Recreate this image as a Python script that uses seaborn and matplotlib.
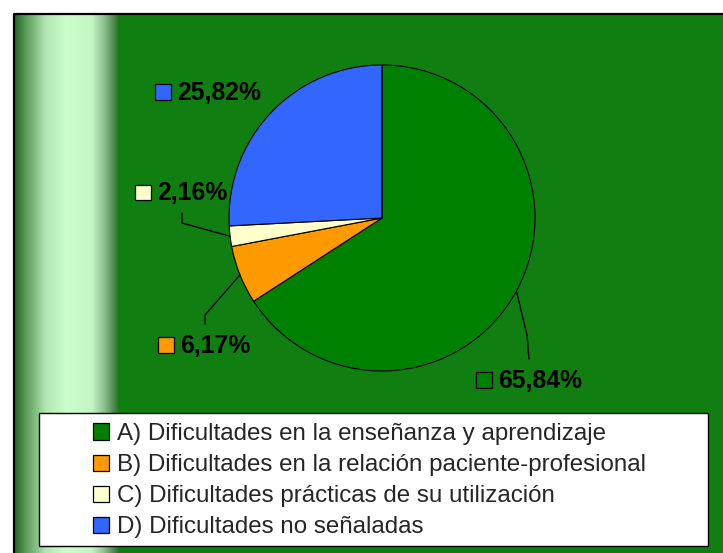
import numpy as np
import matplotlib
matplotlib.use("Agg")
import matplotlib.pyplot as plt
from matplotlib.patches import Rectangle
from matplotlib.colors import LinearSegmentedColormap
import seaborn as sns

sns.set_theme(style="white")
plt.rcParams["font.family"] = ["Liberation Sans", "DejaVu Sans"]

# data
categories = [
    "A) Dificultades en la enseñanza y aprendizaje",
    "B) Dificultades en la relación paciente-profesional",
    "C) Dificultades prácticas de su utilización",
    "D) Dificultades no señaladas",
]
values = [65.84, 6.17, 2.16, 25.82]
colors = ["#008000", "#ff9900", "#ffffcc", "#3366ff"]
pct_labels = [f"{v:.2f}%".replace(".", ",") for v in values]

W, H = 723, 553
fig = plt.figure(figsize=(W / 100, H / 100), dpi=100, facecolor="white")
ax = fig.add_axes([0, 0, 1, 1])

def Y(y):
    # pixel row (from top) -> axes y
    return H - y

# green panel with light stripe at the left
ax.add_patch(Rectangle((14, 0), W - 14, Y(14), facecolor="#107e10", edgecolor="none", zorder=0))
stripe = LinearSegmentedColormap.from_list("stripe", [
    (0.0, "#226622"), (0.12, "#5e9e5e"), (0.3, "#b0e4b0"), (0.5, "#ccffcc"),
    (0.75, "#c4f5c4"), (0.87, "#8fc08f"), (1.0, "#357535")])
ax.imshow(np.linspace(0, 1, 200)[None, :], cmap=stripe, aspect="auto",
          extent=(14, 118, 0, Y(14)), zorder=1)
ax.plot([13.5, 13.5, W], [0, Y(13.5), Y(13.5)], color="black", lw=1.6, zorder=2)

# pie
cx, cy, r = 382, Y(218), 153
wedges, _ = ax.pie(values, colors=colors, startangle=90, counterclock=False,
                   center=(cx, cy), radius=r,
                   wedgeprops=dict(edgecolor="black", linewidth=0.8))
for w in wedges:
    w.set_zorder(3)

# labels: (square left, text baseline row), leader elbow / end rows
label_pos = {0: (476, 388), 1: (158, 353), 2: (135, 200.5), 3: (155, 100)}
leaders = {0: [(527, 335), (529, 359)], 1: [(205, 315), (205, 324)], 2: [(182, 223), (182, 213)]}
sq = 15.5
for i, w in enumerate(wedges):
    mid = np.deg2rad((w.theta1 + w.theta2) / 2)
    if i in leaders:
        xs = [cx + r * np.cos(mid)] + [p[0] for p in leaders[i]]
        ys = [cy + r * np.sin(mid)] + [Y(p[1]) for p in leaders[i]]
        ax.plot(xs, ys, color="black", lw=1, zorder=4)
    lx, base = label_pos[i]
    ax.add_patch(Rectangle((lx, Y(base) + 0.5), sq, sq, facecolor=colors[i],
                           edgecolor="black", lw=0.9, zorder=4))
    ax.text(lx + sq + 7, Y(base), pct_labels[i], fontsize=17.8, fontweight="bold",
            color="black", va="baseline", ha="left", zorder=5)

# legend box
ax.add_patch(Rectangle((39, Y(546)), 669, 133, facecolor="white", edgecolor="black",
                       lw=1, zorder=5))
handles = [Rectangle((0, 0), 1, 1, facecolor=c, edgecolor="black", lw=0.9) for c in colors]
leg = ax.legend(handles, categories, loc="upper left", frameon=False,
                bbox_to_anchor=(93 / W, 1 - 423 / H), bbox_transform=fig.transFigure,
                fontsize=17.35, handlelength=0.66, handleheight=0.66,
                handletextpad=0.35, labelspacing=0.38, borderpad=0, borderaxespad=0)
leg.set_zorder(6)

ax.set_xlim(0, W)
ax.set_ylim(0, H)
ax.set_aspect("auto")
ax.set_axis_off()

fig.savefig("out.png", dpi=100, facecolor="white")
